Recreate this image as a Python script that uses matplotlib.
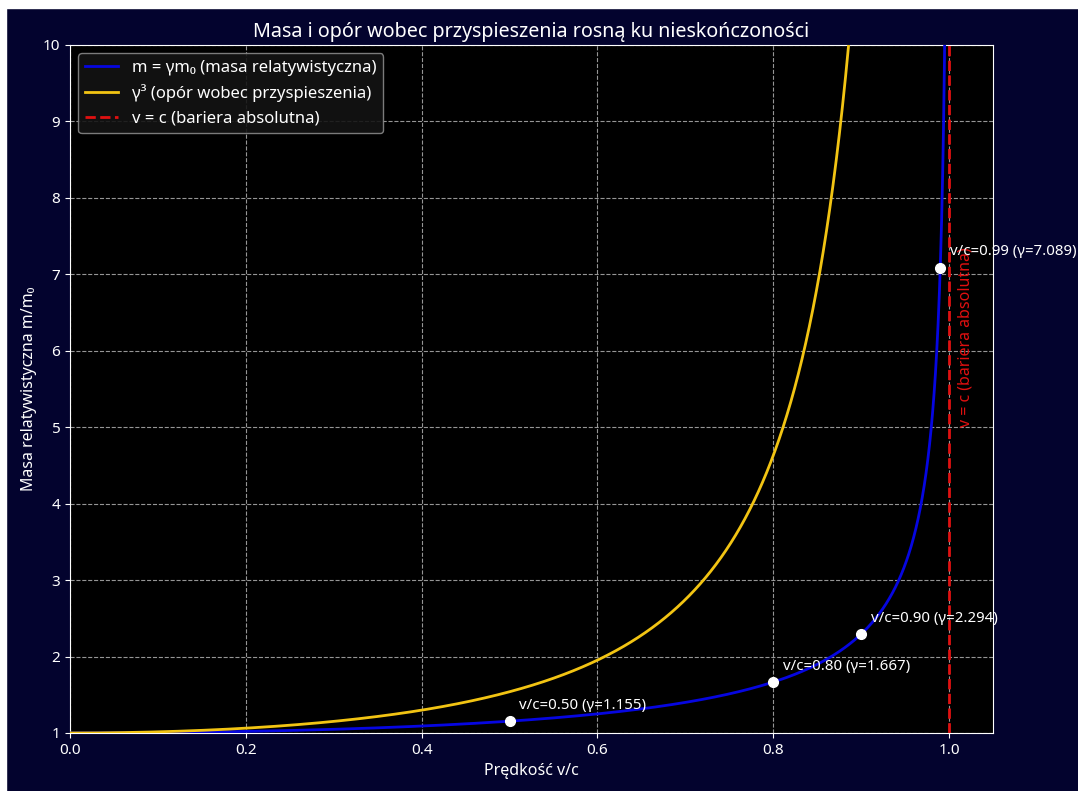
import numpy as np
import matplotlib
matplotlib.use("Agg")
import matplotlib.pyplot as plt
from matplotlib.patches import Rectangle

plt.rcParams['font.family'] = ['Noto Sans', 'DejaVu Sans']

# Velocity range (fraction of c) and the highlighted sample speeds
v_min, v_max = 0.0, 0.9995
marked_speeds = [0.50, 0.80, 0.90, 0.99]

title = "Masa i opór wobec przyspieszenia rosną ku nieskończoności"
x_label = "Prędkość v/c"
y_label = "Masa relatywistyczna m/m₀"
label_gamma = "m = γm₀ (masa relatywistyczna)"
label_gamma3 = "γ³ (opór wobec przyspieszenia)"
label_barrier = "v = c (bariera absolutna)"

x_ticks = [0.0, 0.2, 0.4, 0.6, 0.8, 1.0]
y_ticks = [1, 2, 3, 4, 5, 6, 7, 8, 9, 10]

navy = '#03032e'

v = np.linspace(v_min, v_max, 4000)
gamma = 1.0 / np.sqrt(1.0 - v ** 2)
gamma3 = gamma ** 3

fig = plt.figure(figsize=(10.78, 7.91), dpi=100, facecolor=navy)
ax = fig.add_axes([70 / 1078, 1 - 733 / 791, (993 - 70) / 1078, (733 - 45) / 791])
ax.set_facecolor('black')

ax.plot(v, gamma, color='#0606e0', lw=2, label=label_gamma, zorder=3)
ax.plot(v, gamma3, color='#f2c413', lw=2, label=label_gamma3, zorder=3)
ax.axvline(1.0, color='#e01010', lw=2, ls='--', label=label_barrier, zorder=3)

for s in marked_speeds:
    g = 1.0 / np.sqrt(1.0 - s ** 2)
    ax.plot(s, g, 'o', color='white', ms=7, zorder=5)
    ax.annotate(f"v/c={s:.2f} (γ={g:.3f})", xy=(s, g), xytext=(7, 9),
                textcoords='offset points', color='white', fontsize=10.8, zorder=6)

ax.text(1.01, 5.0, label_barrier, rotation=90, color='#e01010', fontsize=11.5,
        ha='left', va='bottom')

ax.set_xlim(0, 1.05)
ax.set_ylim(1, 10)
ax.set_xticks(x_ticks)
ax.set_yticks(y_ticks)
ax.grid(True, color='#bbbbbb', ls='--', lw=0.8, alpha=0.8)
ax.tick_params(colors='white', labelsize=11)
for sp in ax.spines.values():
    sp.set_color('white')

ax.set_title(title, color='white', fontsize=14.2, pad=6)
ax.set_xlabel(x_label, color='white', fontsize=11.5)
ax.set_ylabel(y_label, color='white', fontsize=11.5)

leg = ax.legend(loc='upper left', fontsize=12, facecolor='#141414',
                edgecolor='#888888', framealpha=0.9, labelcolor='white')

# White margin strips along top and left edges
fig.patches.append(Rectangle((0, 1 - 8 / 791), 1, 8 / 791, transform=fig.transFigure,
                             color='white', zorder=10))
fig.patches.append(Rectangle((0, 0), 6 / 1078, 1, transform=fig.transFigure,
                             color='white', zorder=10))

fig.savefig('out.png', dpi=100, facecolor=navy)
